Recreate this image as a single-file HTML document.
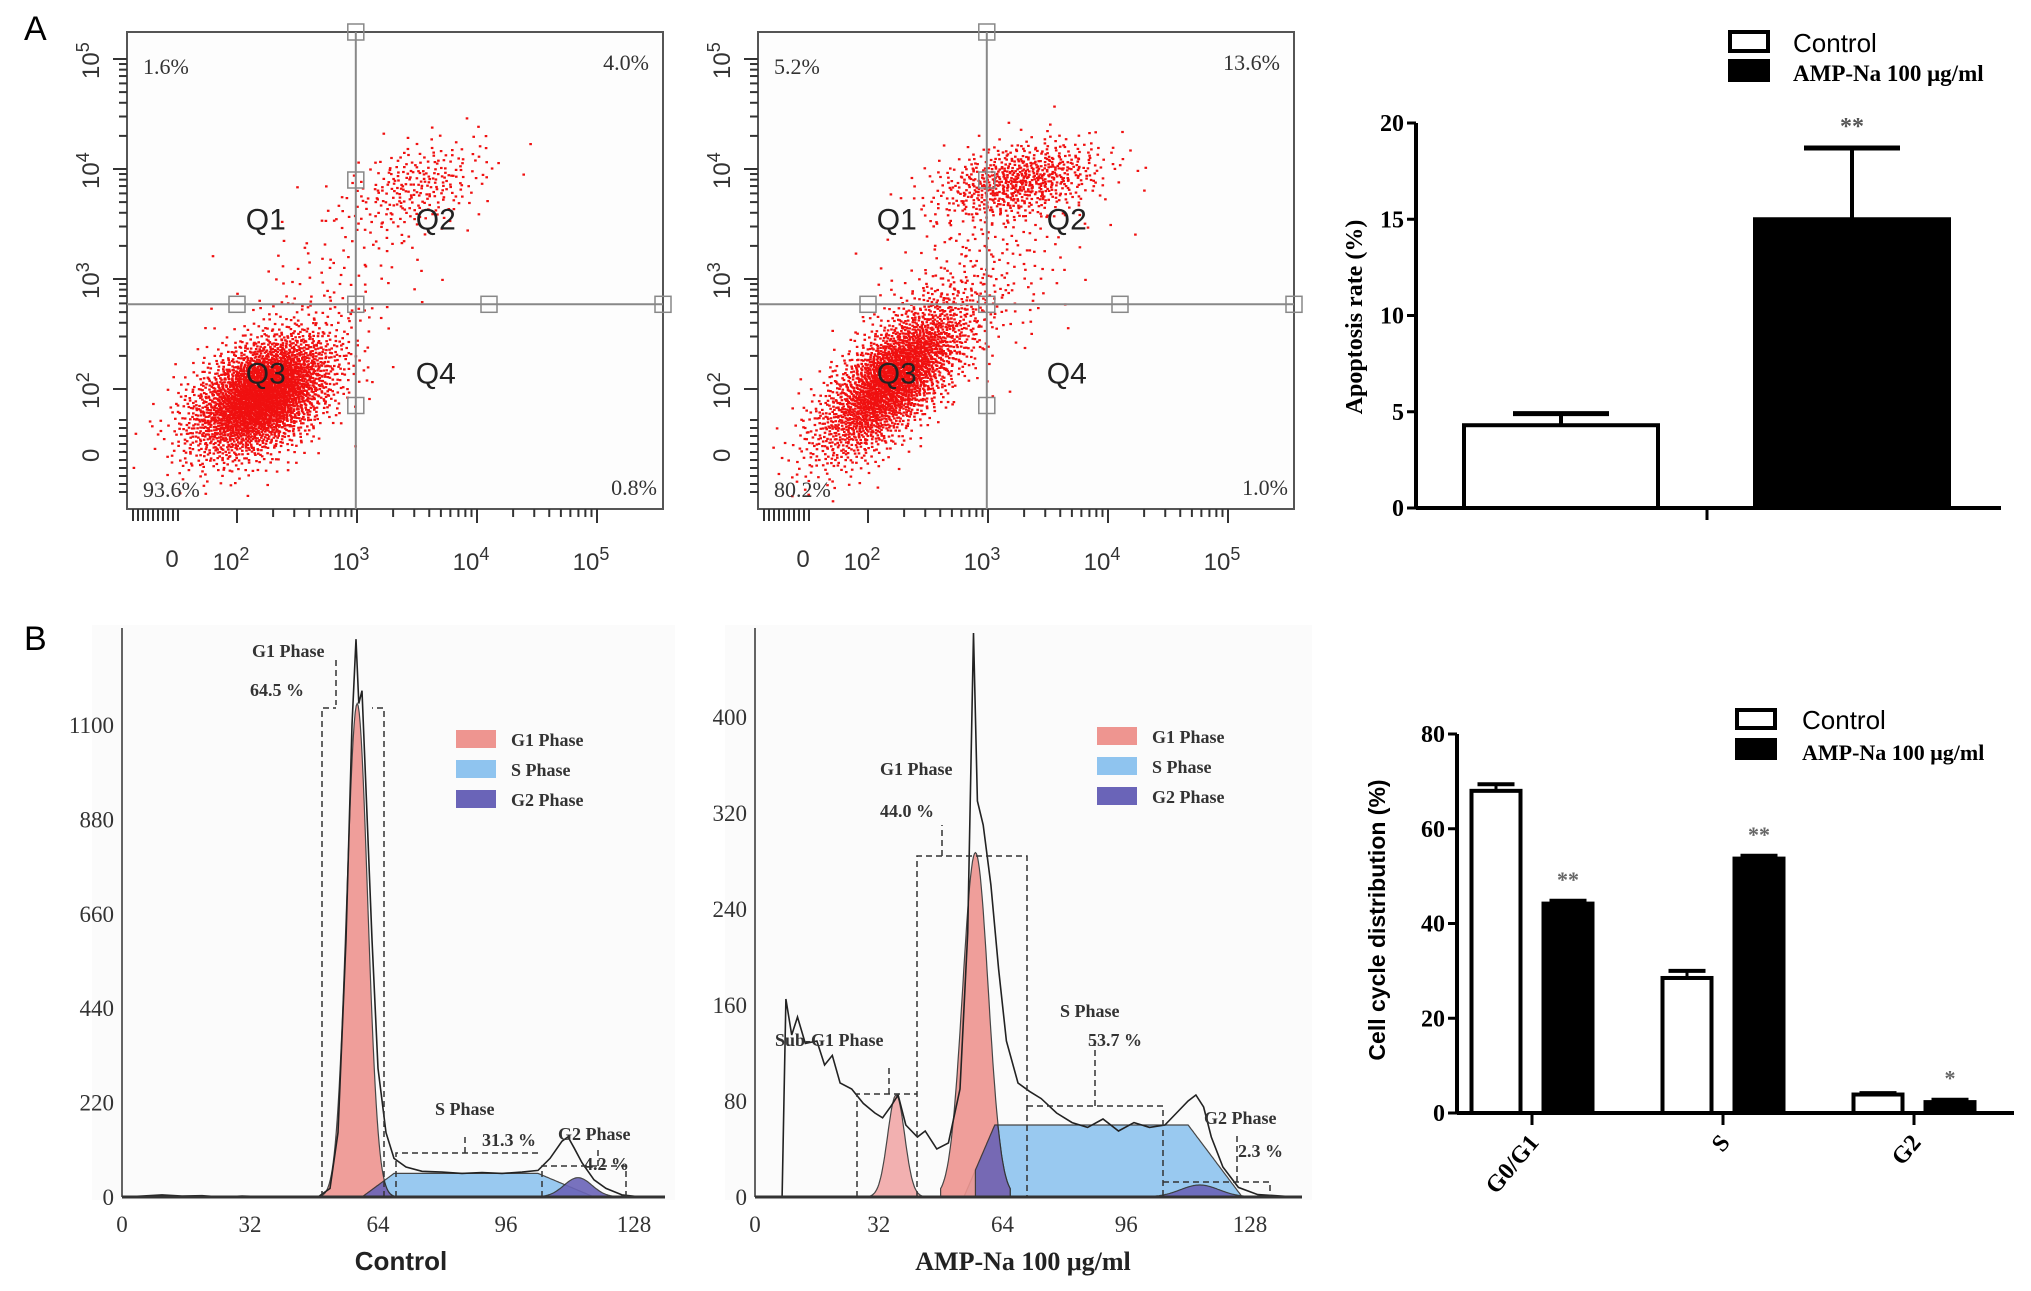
<!DOCTYPE html>
<html><head><meta charset="utf-8"><style>
body{margin:0;background:#fff}
svg{display:block}
</style></head><body>
<svg id="fig" width="2031" height="1291" viewBox="0 0 2031 1291" xmlns="http://www.w3.org/2000/svg" font-family="Liberation Serif, serif">
<text x="24" y="40" font-family="Liberation Sans, sans-serif" font-size="34">A</text>
<text x="24" y="650" font-family="Liberation Sans, sans-serif" font-size="34">B</text>
<g id="flowL"></g>
<g id="flowR"></g>
<g id="barA"></g>
<g id="histL"></g>
<g id="histR"></g>
<g id="barB"></g>
</svg>
<script>
// ---------- data ----------
const apopGroups = ["Control", "AMP-Na 100 μg/ml"];
const apopValues = [4.3, 15.0];
const apopErrors = [0.6, 3.7];
const apopTicks = [0, 5, 10, 15, 20];
const apopSig = ["", "**"];

const cycleCats = ["G0/G1", "S", "G2"];
const cycleControl = [68, 28.5, 3.9];
const cycleAmp = [44.2, 53.7, 2.3];
const cycleControlErr = [1.4, 1.5, 0.3];
const cycleAmpErr = [0.6, 0.6, 0.5];
const cycleSig = ["**", "**", "*"];
const cycleTicks = [0, 20, 40, 60, 80];

const flowLabelsL = ["1.6%", "4.0%", "93.6%", "0.8%"];
const flowLabelsR = ["5.2%", "13.6%", "80.2%", "1.0%"];
// clusters: [logX, logY, sdX, sdY, corr, count]
const clustersL = [[2.2, 1.95, 0.3, 0.28, 0.45, 3200], [3.5, 3.85, 0.3, 0.22, 0.4, 260], [2.8, 3.0, 0.45, 0.45, 0.5, 120]];
const clustersR = [[2.2, 2.1, 0.32, 0.36, 0.7, 2600], [3.25, 3.9, 0.35, 0.18, 0.35, 700], [2.9, 3.0, 0.45, 0.5, 0.5, 260]];

const histTicksL = [0, 220, 440, 660, 880, 1100];
const histTicksR = [0, 80, 160, 240, 320, 400];
const histXTicks = [0, 32, 64, 96, 128];
const outlineL = [[0,0],[5,2],[10,5],[15,2],[20,3],[25,0],[30,2],[40,0],[49,0],[52,20],[54,150],[56,600],[57.5,1100],[58.5,1300],[59.2,1150],[60,1180],[61,950],[62.5,600],[64,300],[66,150],[68,90],[71,70],[75,60],[80,58],[85,55],[90,57],[95,55],[100,58],[104,62],[107,90],[110,130],[111.5,140],[113,115],[115,80],[118,40],[121,20],[125,5],[130,0],[135,0]];
const outlineR = [[7,0],[8,165],[9.5,135],[11,150],[13,128],[16,130],[18,110],[20,118],[22,95],[25,90],[28,78],[31,70],[33,66],[35,75],[37,85],[39,60],[42,50],[44,55],[47,40],[50,45],[53,90],[55,220],[56.5,470],[57.5,330],[59,310],[61,260],[63,190],[65,130],[68,95],[71,88],[74,82],[78,70],[82,62],[86,58],[90,65],[94,55],[98,62],[102,58],[106,60],[109,70],[112,80],[114,85],[116,75],[118,50],[121,25],[125,8],[130,2],[140,0]];
// phases: [center, height, sigma]
const g1L = [58.8, 1150, 2.6];
const sL = [66, 118, 55];        // start, end, height
const g2L = [114, 45, 3.5];
const subG1R = [36.5, 85, 2.2];
const g1R = [57, 287, 3.3];
const sR = [60, 126, 60];
const g2R = [115, 10, 5];

// ---------- helpers ----------
const NS = "http://www.w3.org/2000/svg";
const SANS = "Liberation Sans, sans-serif";
function mk(parent, tag, attrs, txt) {
  const e = document.createElementNS(NS, tag);
  for (const k in attrs) e.setAttribute(k, attrs[k]);
  if (txt !== undefined) e.textContent = txt;
  parent.appendChild(e);
  return e;
}
function halton(i, b) { let f = 1, r = 0; while (i > 0) { f /= b; r += f * (i % b); i = Math.floor(i / b); } return r; }

// ---------- flow cytometry ----------
function flow(gid, ox, clusters, labels) {
  const g = document.getElementById(gid);
  const L = ox + 127, R = ox + 663, T = 32, B = 509;
  const xs = v => ox + 237 + (v - 2) * 120;   // log units
  const ys = v => 389 - (v - 2) * 110;
  const r0 = mk(g, "rect", {x: L, y: T, width: R - L, height: B - T, fill: "#fdfdfd", stroke: "#555", "stroke-width": 2});
  
  
  let idx = 1;
  clusters.forEach((c, ci) => {
    for (let n = 0; n < c[5]; n++, idx++) {
      const u1 = Math.max(halton(idx, 2), 1e-4), u2 = halton(idx, 3);
      const rr = Math.sqrt(-2 * Math.log(u1));
      const z1 = rr * Math.cos(2 * Math.PI * u2), z2 = rr * Math.sin(2 * Math.PI * u2);
      const lx = c[0] + c[2] * z1;
      const ly = c[1] + c[3] * (c[4] * z1 + Math.sqrt(1 - c[4] * c[4]) * z2);
      const px = xs(lx), py = ys(ly);
      if (px < L + 3 || px > R - 3 || py < T + 3 || py > B - 3) continue;
      const p = mk(g, "rect", {x: px.toFixed(1), y: py.toFixed(1), width: 2.6, height: 2.2, fill: "#f01010"});
      
      
    }
  });
  const qx = xs(2.99), qy = ys(2.77);
  mk(g, "line", {x1: qx, y1: T, x2: qx, y2: B, stroke: "#888", "stroke-width": 2});
  mk(g, "line", {x1: L, y1: qy, x2: R, y2: qy, stroke: "#888", "stroke-width": 2});
  [[qx, T], [qx, ys(3.9)], [qx, qy], [qx, ys(1.85)], [xs(2.0), qy], [xs(4.1), qy], [R, qy]].forEach(h => {
    const hs = mk(g, "rect", {x: h[0] - 8, y: h[1] - 8, width: 16, height: 16, fill: "none", stroke: "#888", "stroke-width": 1.5});
    
    
  });
  [["Q1", qx - 110, ys(3.45)], ["Q2", qx + 60, ys(3.45)], ["Q3", qx - 110, ys(2.05)], ["Q4", qx + 60, ys(2.05)]].forEach(q => {
    const t = mk(g, "text", {x: q[1], y: q[2], "font-family": SANS, "font-size": 30, fill: "#222"}, q[0]);
    
    
  });
  const lp = [[L + 16, T + 42, "start"], [R - 14, T + 38, "end"], [L + 16, B - 12, "start"], [R - 6, B - 14, "end"]];
  labels.forEach((s, i) => {
    const t = mk(g, "text", {x: lp[i][0], y: lp[i][1], "text-anchor": lp[i][2], "font-size": 22, fill: "#333"}, s);
    
    
  });
  for (let d = 2; d <= 5; d++) for (let k = 1; k < 10; k++) {
    const v = d + Math.log10(k); if (v > 5.2) continue;
    const y = ys(v), x = xs(v); const len = k === 1 ? 14 : 8;
    if (y > T) mk(g, "line", {x1: L, y1: y, x2: L - len, y2: y, stroke: "#333", "stroke-width": 2});
    if (x < R) mk(g, "line", {x1: x, y1: B, x2: x, y2: B + len, stroke: "#333", "stroke-width": 2});
  }
  for (let i = 0; i < 10; i++) {
    mk(g, "line", {x1: L, y1: 420 + i * 8, x2: L - 8, y2: 420 + i * 8, stroke: "#333", "stroke-width": 2});
    mk(g, "line", {x1: L + 6 + i * 5, y1: B, x2: L + 6 + i * 5, y2: B + 12, stroke: "#333", "stroke-width": 2});
  }
  [["10", "5", 5], ["10", "4", 4], ["10", "3", 3], ["10", "2", 2]].forEach(a => {
    const t = mk(g, "text", {transform: `translate(${L - 28},${ys(a[2]) + 20}) rotate(-90)`, "font-family": SANS, "font-size": 24, fill: "#333"}, a[0]);
    mk(t, "tspan", {dy: -10, "font-size": 18}, a[1]);
    
    
  });
  mk(g, "text", {transform: `translate(${L - 28},462) rotate(-90)`, "font-family": SANS, "font-size": 24, fill: "#333"}, "0");
  mk(g, "text", {x: ox + 172, y: 567, "text-anchor": "middle", "font-family": SANS, "font-size": 24, fill: "#333"}, "0");
  [2, 3, 4, 5].forEach(d => {
    const t = mk(g, "text", {x: xs(d) - 6, y: 570, "text-anchor": "middle", "font-family": SANS, "font-size": 24, fill: "#333"}, "10");
    mk(t, "tspan", {dy: -10, "font-size": 18}, String(d));
    
    
  });
}
flow("flowL", 0, clustersL, flowLabelsL);
flow("flowR", 631, clustersR, flowLabelsR);

// ---------- bar chart A ----------
(function () {
  const g = document.getElementById("barA");
  const ax = 1416, y0 = 508, yTop = 123, xEnd = 2001;
  const y = v => y0 - (v / 20) * (y0 - yTop);
  const bx = [1464, 1755], bw = 194;
  apopValues.forEach((v, i) => {
    const e = y(v + apopErrors[i]);
    mk(g, "line", {x1: bx[i] + bw / 2, y1: y(v), x2: bx[i] + bw / 2, y2: e, stroke: "#000", "stroke-width": 4});
    mk(g, "line", {x1: bx[i] + bw / 2 - 48, y1: e, x2: bx[i] + bw / 2 + 48, y2: e, stroke: "#000", "stroke-width": 5});
    const r = mk(g, "rect", {x: bx[i], y: y(v), width: bw, height: y0 - y(v), fill: i ? "#000" : "#fff", stroke: "#000", "stroke-width": 4});
    
    
    if (apopSig[i]) mk(g, "text", {x: bx[i] + bw / 2, y: e - 14, "text-anchor": "middle", "font-size": 24, "font-weight": "bold", fill: "#555"}, apopSig[i]);
  });
  mk(g, "line", {x1: ax, y1: yTop, x2: ax, y2: y0, stroke: "#000", "stroke-width": 4});
  mk(g, "line", {x1: ax, y1: y0, x2: xEnd, y2: y0, stroke: "#000", "stroke-width": 4});
  mk(g, "line", {x1: 1707, y1: y0, x2: 1707, y2: y0 + 12, stroke: "#000", "stroke-width": 3});
  apopTicks.forEach(t => {
    mk(g, "line", {x1: ax - 9, y1: y(t), x2: ax, y2: y(t), stroke: "#000", "stroke-width": 3});
    const tx = mk(g, "text", {x: ax - 12, y: y(t) + 8, "text-anchor": "end", "font-size": 24, "font-weight": "bold"}, String(t));
    
    
  });
  const yl = mk(g, "text", {transform: "translate(1362,317) rotate(-90)", "text-anchor": "middle", "font-size": 24, "font-weight": "bold"}, "Apoptosis rate (%)");
  
  
  mk(g, "rect", {x: 1730, y: 32, width: 38, height: 19, fill: "#fff", stroke: "#000", "stroke-width": 4});
  mk(g, "rect", {x: 1730, y: 61, width: 38, height: 19, fill: "#000", stroke: "#000", "stroke-width": 4});
  const l1 = mk(g, "text", {x: 1793, y: 52, "font-family": SANS, "font-size": 26}, "Control");
  
  
  const l2 = mk(g, "text", {x: 1793, y: 81, "font-size": 23, "font-weight": "bold"}, "AMP-Na 100  μg/ml");
  
  
})();

// ---------- histograms ----------
function hist(gid, o) {
  const g = document.getElementById(gid);
  const x = v => o.x0 + v * (o.x128 - o.x0) / 128;
  const y = v => o.y0 - v * o.py;
  mk(g, "rect", {x: o.x0 - 30, y: 625, width: o.xEnd - o.x0 + 40, height: 575, fill: "#fbfbfb"});
  const gauss = (p, v) => p[1] * Math.exp(-0.5 * Math.pow((v - p[0]) / p[2], 2));
  function area(fn, a, b, fill, name) {
    let d = `M${x(a)},${y(0)}`;
    for (let v = a; v <= b; v += 0.25) d += ` L${x(v).toFixed(1)},${y(fn(v)).toFixed(1)}`;
    d += ` L${x(b)},${y(0)}Z`;
    const p = mk(g, "path", {d, fill, stroke: "#333", "stroke-width": 1.2, opacity: 0.9});
    
    
  }
  const s = o.s;
  const sFn = v => {
    const rise = Math.min(1, Math.max(0, (v - s[0] + 6) / 8));
    const fall = Math.min(1, Math.max(0, (s[1] - v) / 14));
    return s[2] * rise * fall;
  };
  area(sFn, s[0] - 8, s[1] + 2, "#8fc4ef", "s-phase-area");
  area(v => gauss(o.g2, v), o.g2[0] - 12, o.g2[0] + 12, "#6a64b8", "g2-phase-area");
  if (o.sub) area(v => gauss(o.sub, v), o.sub[0] - 7, o.sub[0] + 7, "#f2a8a8", "subg1-area");
  area(v => gauss(o.g1, v), o.g1[0] - 9, o.g1[0] + 9, "#ee9590", "g1-phase-area");
  area(v => Math.min(gauss(o.g1, v), sFn(v)), o.g1[0], o.g1[0] + 9, "#6a64b8", "overlap-area");
  let d = "";
  o.outline.forEach((p, i) => { d += (i ? " L" : "M") + x(p[0]).toFixed(1) + "," + y(p[1]).toFixed(1); });
  const ol = mk(g, "path", {d, fill: "none", stroke: "#222", "stroke-width": 1.6});
  
  
  mk(g, "line", {x1: o.x0, y1: 628, x2: o.x0, y2: o.y0, stroke: "#333", "stroke-width": 1.5});
  mk(g, "line", {x1: o.x0, y1: o.y0, x2: o.xEnd, y2: o.y0, stroke: "#333", "stroke-width": 3});
  o.yt.forEach(t => {
    const tx = mk(g, "text", {x: o.x0 - 8, y: y(t) + 8, "text-anchor": "end", "font-size": 23, fill: "#333"}, String(t));
    
    
  });
  histXTicks.forEach(t => {
    const tx = mk(g, "text", {x: x(t), y: o.y0 + 35, "text-anchor": "middle", "font-size": 23, fill: "#333"}, String(t));
    
    
  });
  const xt = mk(g, "text", {x: o.lx, y: 1270, "text-anchor": "middle", "font-family": o.lf, "font-size": 26, "font-weight": "bold", fill: "#222"}, o.label);
  
  
  [["G1 Phase", "#ee9590"], ["S Phase", "#8fc4ef"], ["G2 Phase", "#6a64b8"]].forEach((l, i) => {
    mk(g, "rect", {x: o.legX, y: o.legY + i * 30, width: 40, height: 18, fill: l[1]});
    const lt = mk(g, "text", {x: o.legX + 55, y: o.legY + 16 + i * 30, "font-size": 18, "font-weight": "bold", fill: "#333"}, l[0]);
    
    
  });
  o.ann.forEach(a => mk(g, "text", {x: a[0], y: a[1], "font-size": 18, "font-weight": "bold", fill: "#333"}, a[2]));
  o.dash.forEach(a => mk(g, "path", {d: a, fill: "none", stroke: "#333", "stroke-width": 1.5, "stroke-dasharray": "6,4"}));
}
hist("histL", {x0: 122, x128: 634, xEnd: 665, y0: 1197, py: 472 / 1100, yt: histTicksL, g1: g1L, s: sL, g2: g2L,
  outline: outlineL, label: "Control", lx: 401, lf: SANS, legX: 456, legY: 730,
  ann: [[252, 657, "G1 Phase"], [250, 696, "64.5 %"], [435, 1115, "S Phase"], [482, 1146, "31.3 %"], [558, 1140, "G2 Phase"], [584, 1170, "4.2 %"]],
  dash: ["M322,1197 V708 H336", "M384,1197 V708 H372", "M336,660 V705", "M396,1197 V1153 H542", "M465,1153 V1135", "M542,1197 V1166 H626 V1197", "M598,1166 V1150"]});
hist("histR", {x0: 755, x128: 1250, xEnd: 1302, y0: 1197, py: 480 / 400, yt: histTicksR, g1: g1R, s: sR, g2: g2R, sub: subG1R,
  outline: outlineR, label: "AMP-Na 100 μg/ml", lx: 1023, lf: "Liberation Serif, serif", legX: 1097, legY: 727,
  ann: [[880, 775, "G1 Phase"], [880, 817, "44.0 %"], [775, 1046, "Sub-G1 Phase"], [1060, 1017, "S Phase"], [1088, 1046, "53.7 %"], [1204, 1124, "G2 Phase"], [1238, 1157, "2.3 %"]],
  dash: ["M857,1197 V1094 H917", "M889,1094 V1067", "M917,1197 V856 H1027 V1197", "M942,856 V825", "M1027,1106 H1163 V1197", "M1095,1106 V1045", "M1163,1182 H1270 V1197", "M1237,1182 V1135"]});

// ---------- bar chart B ----------
(function () {
  const g = document.getElementById("barB");
  const ax = 1457, y0 = 1113, yTop = 734, xEnd = 2014;
  const y = v => y0 - (v / 80) * (y0 - yTop);
  const centers = [1532, 1723, 1914], bw = 49, off = 36;
  cycleCats.forEach((c, i) => {
    [[cycleControl[i], cycleControlErr[i], -1], [cycleAmp[i], cycleAmpErr[i], 1]].forEach(b => {
      const bx = centers[i] + b[2] * off - bw / 2;
      const e = y(b[0] + b[1]);
      mk(g, "line", {x1: bx + bw / 2, y1: y(b[0]), x2: bx + bw / 2, y2: e, stroke: "#000", "stroke-width": 3});
      mk(g, "line", {x1: bx + 6, y1: e, x2: bx + bw - 6, y2: e, stroke: "#000", "stroke-width": 4});
      const r = mk(g, "rect", {x: bx, y: y(b[0]), width: bw, height: y0 - y(b[0]), fill: b[2] > 0 ? "#000" : "#fff", stroke: "#000", "stroke-width": 4});
      
      
    });
    const sx = centers[i] + off;
    mk(g, "text", {x: sx, y: y(cycleAmp[i] + cycleAmpErr[i]) - 14, "text-anchor": "middle", "font-size": 22, "font-weight": "bold", fill: "#666"}, cycleSig[i]);
    mk(g, "line", {x1: centers[i], y1: y0, x2: centers[i], y2: y0 + 12, stroke: "#000", "stroke-width": 3});
    const t = mk(g, "text", {transform: `translate(${centers[i] + 8},${y0 + 30}) rotate(-50)`, "text-anchor": "end", "font-size": 24, "font-weight": "bold"}, c);
    
    
  });
  mk(g, "line", {x1: ax, y1: yTop, x2: ax, y2: y0, stroke: "#000", "stroke-width": 4});
  mk(g, "line", {x1: ax, y1: y0, x2: xEnd, y2: y0, stroke: "#000", "stroke-width": 4});
  cycleTicks.forEach(t => {
    mk(g, "line", {x1: ax - 9, y1: y(t), x2: ax, y2: y(t), stroke: "#000", "stroke-width": 3});
    const tx = mk(g, "text", {x: ax - 12, y: y(t) + 8, "text-anchor": "end", "font-size": 24, "font-weight": "bold"}, String(t));
    
    
  });
  const yl = mk(g, "text", {transform: "translate(1385,920) rotate(-90)", "text-anchor": "middle", "font-family": SANS, "font-size": 23, "font-weight": "bold"}, "Cell cycle distribution (%)");
  
  
  mk(g, "rect", {x: 1737, y: 710, width: 38, height: 18, fill: "#fff", stroke: "#000", "stroke-width": 4});
  mk(g, "rect", {x: 1737, y: 740, width: 38, height: 18, fill: "#000", stroke: "#000", "stroke-width": 4});
  const l1 = mk(g, "text", {x: 1802, y: 729, "font-family": SANS, "font-size": 26}, "Control");
  
  
  const l2 = mk(g, "text", {x: 1802, y: 760, "font-size": 22, "font-weight": "bold"}, "AMP-Na 100 μg/ml");
  
  
})();
</script>
</body></html>
